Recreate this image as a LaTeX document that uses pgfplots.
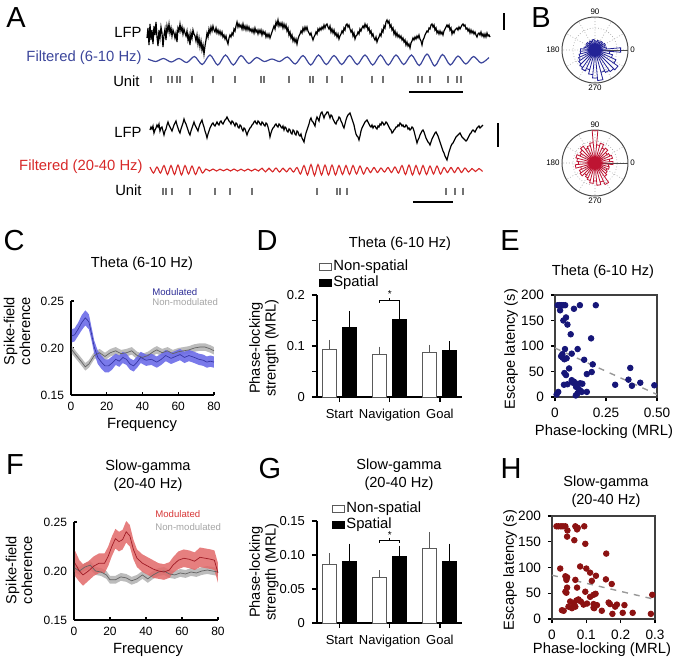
\documentclass[border=0pt]{standalone}
\usepackage{fontspec}
\setmainfont{Liberation Sans}
\usepackage{pgfplots}
\pgfplotsset{compat=1.18}
\usepgfplotslibrary{fillbetween,polar}
\usepackage{pgfplotstable}

\definecolor{bband}{RGB}{108,108,232}
\definecolor{bline}{RGB}{55,55,165}
\definecolor{gband}{RGB}{188,188,188}
\definecolor{gline}{RGB}{100,100,100}
\definecolor{rband}{RGB}{226,104,104}
\definecolor{rline}{RGB}{160,28,38}
\definecolor{btxt}{RGB}{45,45,150}
\definecolor{rtxt}{RGB}{215,55,55}
\definecolor{gtxt}{RGB}{165,165,165}
\definecolor{ftb}{RGB}{60,70,155}
\definecolor{ftr}{RGB}{215,40,40}
\definecolor{navy}{RGB}{22,22,120}
\definecolor{dred}{RGB}{140,18,18}
\definecolor{roseb}{RGB}{35,35,150}
\definecolor{roser}{RGB}{190,20,50}
\definecolor{nsbar}{RGB}{90,90,90}

\newcommand\fz[2]{\fontsize{#1}{#2}\selectfont}

\pgfplotsset{
  panel/.style={scale only axis, clip=false,
    axis line style={-,line width=0.6pt},
    tick style={line width=0.6pt,black},
    /pgf/number format/assume math mode=true},
}

% spike-field coherence, theta
\pgfplotstableread{
x m e
0.5 0.213 0.007
2 0.214 0.007
4 0.220 0.007
6 0.227 0.008
8 0.232 0.008
10 0.228 0.008
11.5 0.215 0.007
13 0.201 0.007
15 0.190 0.007
17 0.185 0.007
19 0.181 0.007
21 0.181 0.007
23 0.184 0.007
25 0.188 0.006
27 0.186 0.006
29 0.190 0.006
31 0.188 0.006
33 0.183 0.006
35 0.181 0.006
37 0.185 0.006
39 0.190 0.006
42 0.187 0.006
45 0.188 0.006
48 0.185 0.006
50.5 0.188 0.006
53 0.192 0.006
56 0.189 0.006
58.5 0.191 0.006
61 0.193 0.006
63.5 0.190 0.006
66 0.192 0.006
69 0.190 0.006
71.5 0.188 0.006
74 0.187 0.006
76 0.185 0.006
78 0.186 0.006
80 0.185 0.006
}\cmod
\pgfplotstableread{
x m e
0.5 0.198 0.004
3 0.192 0.004
6 0.185 0.004
8 0.180 0.004
10 0.183 0.004
13 0.192 0.004
16 0.195 0.004
19 0.191 0.004
22 0.195 0.004
25 0.197 0.004
28 0.194 0.004
31 0.195 0.004
34 0.197 0.004
37 0.192 0.004
40 0.190 0.004
43 0.192 0.004
46 0.196 0.004
48 0.198 0.004
51 0.195 0.004
54 0.197 0.004
57 0.194 0.004
60 0.196 0.004
63 0.197 0.004
66 0.198 0.004
69 0.200 0.004
72 0.201 0.004
75 0.201 0.004
78 0.199 0.004
80 0.197 0.004
}\cnon
% spike-field coherence, slow gamma
\pgfplotstableread{
x m e
0.5 0.208 0.013
3 0.200 0.011
5 0.196 0.011
8 0.200 0.010
11 0.205 0.010
14 0.208 0.010
17 0.208 0.010
19 0.215 0.010
21 0.225 0.010
23 0.233 0.010
25 0.230 0.010
27 0.232 0.010
29 0.240 0.011
31 0.236 0.011
33 0.222 0.010
35 0.213 0.009
38 0.208 0.009
41 0.205 0.009
44 0.202 0.009
47 0.200 0.008
50 0.199 0.008
53 0.201 0.008
55 0.206 0.008
58 0.211 0.009
61 0.213 0.009
64 0.212 0.009
67 0.210 0.009
70 0.214 0.010
73 0.213 0.010
76 0.212 0.010
78 0.211 0.010
80 0.198 0.010
}\fmod
\pgfplotstableread{
x m e
0.5 0.203 0.004
3 0.200 0.004
6 0.204 0.004
9 0.206 0.004
12 0.200 0.004
15 0.199 0.004
18 0.196 0.004
20 0.191 0.004
23 0.191 0.004
26 0.194 0.004
29 0.193 0.004
32 0.190 0.004
35 0.192 0.004
38 0.196 0.004
41 0.192 0.004
44 0.196 0.004
47 0.199 0.004
50 0.200 0.004
53 0.197 0.004
56 0.196 0.004
59 0.198 0.004
62 0.197 0.004
65 0.199 0.004
68 0.198 0.004
71 0.200 0.004
74 0.201 0.004
77 0.200 0.004
80 0.199 0.004
}\fnon

\begin{document}
\begin{tikzpicture}
\path (0,0) rectangle (338.5pt,-330.5pt);
\begin{scope}[x=0.5pt,y=-0.5pt]
\coordinate (pA) at (100,0);
\coordinate (pB1) at (595,50);
\coordinate (pB2) at (595,163);
\coordinate (pC) at (71,395);
\coordinate (pD) at (317,397);
\coordinate (pE) at (555,397);
\coordinate (pF) at (74,620);
\coordinate (pG) at (317,623);
\coordinate (pH) at (552,619);
\end{scope}

% ---------- C ----------
\begin{axis}[panel, at={(pC)}, anchor=south west, width=71.5pt, height=47pt,
  xmin=0, xmax=80, ymin=0.15, ymax=0.25, axis x line*=bottom, axis y line*=left,
  xtick={0,20,40,60,80}, ytick={0.15,0.2,0.25}, yticklabels={0.15,0.20,0.25},
  tick align=inside, major tick length=1.5pt, ticklabel style={font=\fz{6}{7}}]
\addplot[draw=none, name path=gu] table[x=x, y expr=\thisrow{m}+\thisrow{e}] {\cnon};
\addplot[draw=none, name path=gl] table[x=x, y expr=\thisrow{m}-\thisrow{e}] {\cnon};
\addplot[gband] fill between[of=gu and gl];
\addplot[draw=none, name path=bu] table[x=x, y expr=\thisrow{m}+\thisrow{e}] {\cmod};
\addplot[draw=none, name path=bl] table[x=x, y expr=\thisrow{m}-\thisrow{e}] {\cmod};
\addplot[bband, fill opacity=0.9] fill between[of=bu and bl];
\addplot[gline, line width=0.35pt] table[x=x, y=m] {\cnon};
\addplot[bline, line width=0.35pt] table[x=x, y=m] {\cmod};
\node[anchor=west, font=\fz{4.8}{5}, text=btxt, inner sep=0pt] at (axis cs:45.3,0.2596) {Modulated};
\node[anchor=west, font=\fz{4.8}{5}, text=gtxt, inner sep=0pt] at (axis cs:45.3,0.2489) {Non-modulated};
\end{axis}

% ---------- F ----------
\begin{axis}[panel, at={(pF)}, anchor=south west, width=72pt, height=49pt,
  xmin=0, xmax=80, ymin=0.15, ymax=0.25, axis x line*=bottom, axis y line*=left,
  xtick={0,20,40,60,80}, ytick={0.15,0.2,0.25}, yticklabels={0.15,0.20,0.25},
  tick align=inside, major tick length=1.5pt, ticklabel style={font=\fz{6}{7}}]
\addplot[draw=none, name path=hu] table[x=x, y expr=\thisrow{m}+\thisrow{e}] {\fnon};
\addplot[draw=none, name path=hl] table[x=x, y expr=\thisrow{m}-\thisrow{e}] {\fnon};
\addplot[gband] fill between[of=hu and hl];
\addplot[draw=none, name path=ru] table[x=x, y expr=\thisrow{m}+\thisrow{e}] {\fmod};
\addplot[draw=none, name path=rl] table[x=x, y expr=\thisrow{m}-\thisrow{e}] {\fmod};
\addplot[rband, fill opacity=0.85] fill between[of=ru and rl];
\addplot[gline, line width=0.35pt] table[x=x, y=m] {\fnon};
\addplot[rline, line width=0.35pt] table[x=x, y=m] {\fmod};
\node[anchor=west, font=\fz{4.8}{5}, text=rtxt, inner sep=0pt] at (axis cs:45,0.2582) {Modulated};
\node[anchor=west, font=\fz{4.8}{5}, text=gtxt, inner sep=0pt] at (axis cs:45,0.2449) {Non-modulated};
\end{axis}

% ---------- A: traces (pixel-like units) ----------
\begin{axis}[panel, hide axis, at={(pA)}, anchor=north west,
  width=205pt, height=107.5pt, xmin=100, xmax=510, ymin=0, ymax=215, y dir=reverse]
\addplot[black, line width=0.6pt] coordinates {
(147,38)(148,28)(149,45)(150,24)(151,40)(152,30)(153,44)(154,26)(155,35)(156,22)
(157,37)(158,46)(159,30)(160,38)(161,27)(162,33)(163,47)(164,35)(165,29)(166,40)
(167,26)(168,31)(169,24)(170,33)(171,28)(172,36)(173,30)(174,33)(175,38)(176,33)
(177,42)(178,28)(179,31)(180,24)(181,31)(182,27)(183,34)(184,29)(185,33)(186,36)
(187,31)(188,40)(189,35)(190,45)(191,33)(192,38)(193,30)(194,34)(195,36)(196,41)
(197,35)(198,44)(199,38)(200,47)(201,41)(202,50)(203,45)(204,54)(205,46)(206,40)
(207,33)(208,37)(209,29)(210,33)(211,27)(212,31)(213,26)(214,30)(215,32)(216,28)
(217,33)(218,30)(219,34)(220,31)(221,35)(222,32)(223,37)(224,35)(225,39)(226,36)
(227,41)(228,44)(229,38)(230,35)(231,37)(232,33)(233,35)(234,29)(235,31)(236,26)
(237,22)(238,27)(239,24)(240,27)(241,25)(242,29)(243,24)(244,29)(245,26)(246,30)
(247,26)(248,30)(249,27)(250,31)(251,29)(252,32)(253,29)(254,33)(255,28)(256,32)
(257,30)(258,34)(259,30)(260,33)(261,30)(262,35)(263,31)(264,34)(265,32)(266,37)
(267,34)(268,37)(269,34)(270,38)(271,35)(272,32)(273,29)(274,26)(275,29)(276,22)
(277,25)(278,20)(279,26)(280,23)(281,26)(282,23)(283,28)(284,24)(285,28)(286,25)
(287,31)(288,28)(289,35)(290,32)(291,38)(292,35)(293,41)(294,38)(295,42)(296,39)
(297,44)(298,39)(299,36)(300,34)(301,31)(302,33)(303,28)(304,31)(305,27)(306,30)
(307,27)(308,31)(309,33)(310,35)(311,33)(312,37)(313,40)(314,37)(315,35)(316,32)
(317,34)(318,29)(319,31)(320,28)(321,30)(322,27)(323,29)(324,25)(325,28)(326,25)
(327,24)(328,27)(329,29)(330,26)(331,32)(332,29)(333,33)(334,30)(335,35)(336,33)
(337,37)(338,34)(339,39)(340,36)(341,34)(342,31)(343,33)(344,28)(345,30)(346,25)
(347,24)(348,27)(349,25)(350,29)(351,32)(352,30)(353,36)(354,33)(355,39)(356,36)
(357,35)(358,32)(359,34)(360,29)(361,31)(362,28)(363,26)(364,28)(365,24)(366,27)
(367,25)(368,30)(369,28)(370,33)(371,31)(372,36)(373,34)(374,38)(375,40)(376,37)
(377,42)(378,39)(379,37)(380,34)(381,36)(382,30)(383,32)(384,26)(385,28)(386,22)
(387,20)(388,23)(389,21)(390,27)(391,25)(392,30)(393,28)(394,34)(395,31)(396,36)
(397,33)(398,37)(399,35)(400,38)(401,36)(402,40)(403,38)(404,42)(405,40)(406,45)
(407,42)(408,46)(409,44)(410,48)(411,43)(412,41)(413,38)(414,40)(415,37)(416,39)
(417,36)(418,38)(419,35)(420,39)(421,41)(422,45)(423,40)(424,38)(425,35)(426,33)
(427,31)(428,32)(429,28)(430,29)(431,25)(432,24)(433,27)(434,25)(435,30)(436,28)
(437,33)(438,31)(439,34)(440,31)(441,34)(442,32)(443,35)(444,31)(445,29)(446,27)
(447,25)(448,27)(449,25)(450,30)(451,28)(452,34)(453,31)(454,33)(455,30)(456,29)
(457,28)(458,30)(459,27)(460,29)(461,27)(462,25)(463,24)(464,26)(465,25)(466,29)
(467,28)(468,31)(469,29)(470,33)(471,30)(472,33)(473,31)(474,34)(475,32)(476,35)
(477,37)(478,34)(479,33)(480,35)(481,32)(482,36)(483,34)(484,37)(485,34)(486,37)
(487,33)(488,36)(489,35)(490,37)};
\addplot[ftb, line width=0.6pt, smooth] coordinates {
(148,59)(155.75,61.5)(163.5,58.5)(171.25,62)(179,58.5)(186.75,62.5)(194.5,56.5)
(202.25,64.5)(210,55)(217.75,65)(225.5,55)(233.25,65)(241,55.5)(248.75,63.5)
(256.5,57.5)(264.25,61.5)(272,59)(279.75,61.5)(287.5,57)(295.25,64)(303,55.5)
(310.75,65)(318.5,55)(326.25,64.5)(334,55.5)(341.75,64.5)(349.5,55.5)(357.25,64.5)
(365,55)(372.75,65)(380.5,55)(388.25,65)(396,55)(403.75,64.5)(411.5,55)(419.25,65.5)
(427,54)(434.75,66)(442.5,54.5)(450.25,65)(458,56)(465.75,64)(473.5,56.5)
(481.25,63)(489,57.5)};
\addplot[only marks, mark=|, mark size=1.75pt, color=black!55, mark options={line width=0.9pt}]
coordinates {(150.7,79)(167.7,79)(172.3,79)(176.7,79)(180,79)(191.7,79)(212.7,79)
(235.3,79)(261,79)(264,79)(289.3,79)(310,79)(313.3,79)(326.7,79)(341.7,79)(371.7,79)
(383.3,79)(418.3,79)(421.7,79)(430,79)(448.3,79)(457.3,79)(460.7,79)};
\addplot[black, line width=1pt] coordinates {(409,92)(463,92)};
\addplot[black, line width=1pt] coordinates {(504,13)(504,30)};
% bottom
\addplot[black, line width=0.6pt] coordinates {
(150,130)(151,127)(152,129)(153,126)(154,133)(155,130)(156,128)(157,125)(158,127)(159,124)
(160,131)(161,128)(162,127)(163,131)(164,135)(165,131)(166,129)(167,125)(168,122)(169,125)
(170,127)(171,129)(172,131)(173,128)(174,125)(175,123)(176,121)(177,125)(178,128)(179,131)
(180,133)(181,129)(182,126)(183,123)(184,119)(185,122)(186,124)(187,127)(188,130)(189,133)
(190,135)(191,131)(192,128)(193,125)(194,122)(195,125)(196,127)(197,129)(198,131)(199,127)
(200,124)(201,122)(202,120)(203,124)(204,127)(205,131)(206,134)(207,138)(208,134)(209,131)
(210,128)(211,126)(212,124)(213,123)(214,125)(215,126)(216,124)(217,122)(218,124)(219,125)
(220,122)(221,121)(222,123)(223,124)(224,122)(225,120)(226,119)(227,117)(228,119)(229,121)
(230,122)(231,124)(232,121)(233,122)(234,124)(235,126)(236,123)(237,124)(238,127)(239,128)
(240,125)(241,126)(242,129)(243,131)(244,128)(245,129)(246,132)(247,135)(248,132)(249,130)
(250,128)(251,127)(252,125)(253,124)(254,122)(255,121)(256,123)(257,124)(258,121)(259,122)
(260,124)(261,125)(262,122)(263,123)(264,125)(265,126)(266,123)(267,124)(268,127)(269,131)
(270,137)(271,133)(272,130)(273,128)(274,127)(275,125)(276,124)(277,126)(278,127)(279,124)
(280,125)(281,127)(282,128)(283,126)(284,130)(285,127)(286,128)(287,131)(288,132)(289,129)
(290,130)(291,133)(292,134)(293,130)(294,131)(295,134)(296,135)(297,131)(298,132)(299,135)
(300,136)(301,134)(302,138)(303,140)(304,142)(305,137)(306,133)(307,130)(308,127)(309,124)
(310,120)(311,118)(312,121)(313,122)(314,124)(315,126)(316,120)(317,117)(318,119)(319,121)
(320,116)(321,113)(322,112)(323,115)(324,118)(325,115)(326,114)(327,112)(328,112)(329,115)
(330,118)(331,115)(332,116)(333,119)(334,121)(335,123)(336,124)(337,121)(338,120)(339,117)
(340,118)(341,121)(342,123)(343,126)(344,128)(345,124)(346,120)(347,117)(348,115)(349,114)
(350,113)(351,116)(352,119)(353,122)(354,125)(355,130)(356,134)(357,136)(358,137)(359,140)
(360,136)(361,131)(362,128)(363,126)(364,124)(365,122)(366,121)(367,120)(368,122)(369,124)
(370,126)(371,127)(372,125)(373,128)(374,126)(375,126)(376,128)(377,129)(378,126)(379,127)
(380,124)(381,125)(382,122)(383,123)(384,125)(385,124)(386,122)(387,123)(388,125)(389,127)
(390,129)(391,130)(392,133)(393,132)(394,130)(395,129)(396,127)(397,127)(398,125)(399,126)
(400,123)(401,124)(402,126)(403,125)(404,127)(405,127)(406,125)(407,126)(408,129)(409,128)
(410,130)(411,129)(412,127)(413,128)(414,131)(415,135)(416,139)(417,143)(418,140)(419,138)
(420,135)(421,133)(422,131)(423,130)(424,132)(425,135)(426,138)(427,140)(428,142)(429,143)
(430,145)(431,142)(432,139)(433,137)(434,135)(435,133)(436,132)(437,134)(438,136)(439,139)
(440,142)(441,145)(442,148)(443,151)(444,153)(445,156)(446,158)(447,160)(448,156)(449,152)
(450,149)(451,146)(452,144)(453,143)(454,141)(455,139)(456,137)(457,136)(458,135)(459,134)
(460,133)(461,135)(462,137)(463,138)(464,139)(465,140)(466,141)(467,140)(468,138)(469,136)
(470,134)(471,133)(472,131)(473,130)(474,131)(475,132)(476,130)(477,128)(478,127)(479,126)
(480,128)(481,127)(482,126)(483,125)};
\addplot[ftr, line width=0.55pt, smooth] coordinates {
(150,167)(153.5,173)(157,167)(160.5,173)(164,165.5)(167.5,174.5)(171,165.5)
(174.5,174.5)(178,165)(181.5,175)(185,165.5)(188.5,174)(192,166)(195.5,174.5)
(199,167)(202.5,173)(206,169)(209.5,171)(213,169)(216.5,171)(220,169.2)(223.5,170.8)
(227,169)(230.5,171)(234,169)(237.5,171)(241,169.2)(244.5,171)(248,169)(251.5,171)
(255,169)(258.5,171)(262,168.2)(265.5,171.8)(269,168.2)(272.5,171.8)(276,168)
(279.5,172)(283,168.2)(286.5,171.8)(290,168)(293.5,172)(297,167.5)(300.5,174)
(304,165.5)(307.5,175)(311,164.5)(314.5,175.5)(318,164.5)(321.5,175)(325,165)
(328.5,175)(332,165)(335.5,175)(339,165.5)(342.5,174.5)(346,165.5)(349.5,174.5)
(353,165.5)(356.5,174)(360,166)(363.5,174)(367,167.5)(370.5,172.5)(374,167.5)
(377.5,172.5)(381,168)(384.5,172)(388,167.5)(391.5,172.5)(395,167)(398.5,173)
(402,165.5)(405.5,174.5)(409,165)(412.5,175)(416,165.5)(419.5,174.5)(423,165.5)
(426.5,174.5)(430,166)(433.5,174)(437,166)(440.5,174)(444,167.5)(447.5,172.5)
(451,167.5)(454.5,172.5)(458,167.5)(461.5,172.5)(465,168)(468.5,172)(472,168.5)
(475.5,171.5)(479,168.5)(482.5,171.5)};
\addplot[only marks, mark=|, mark size=1.75pt, color=black!55, mark options={line width=0.9pt}]
coordinates {(162.7,191)(165.7,191)(171.7,191)(190,191)(215,191)(230,191)(252.3,191)
(317.3,191)(337.3,191)(340,191)(347.3,191)(446,191)(455,191)(463.3,191)};
\addplot[black, line width=1pt] coordinates {(413,202)(453,202)};
\addplot[black, line width=1pt] coordinates {(498,123)(498,147)};
\end{axis}

% ---------- D ----------
\pgfplotsset{barax/.style={panel, anchor=south west, width=72.5pt, height=51pt,
  xmin=-0.448, xmax=2.44, ymin=0, axis x line*=bottom, axis y line*=left,
  xtick={0,1,2}, xticklabels={Start,Navigation,Goal},
  tick align=outside, major tick length=2.5pt, minor tick length=2.5pt,
  ticklabel style={font=\fz{6.5}{7}},
  legend style={draw=none, fill=none, font=\fz{7.4}{8}, row sep=0pt,
    nodes={inner sep=0.5pt, text height=5.4pt, text depth=1.6pt},
    /tikz/every even column/.append style={column sep=1pt}},
  legend cell align=left},
  nsb/.style={ybar, bar width=0.28, bar shift=0pt, fill=white, draw=nsbar, line width=0.5pt,
    forget plot, error bars/.cd, y dir=plus, y explicit, error mark=-,
    error bar style={line width=0.5pt, draw=nsbar},
    error mark options={mark size=2pt, line width=0.5pt, draw=nsbar}},
  spb/.style={ybar, bar width=0.28, bar shift=0pt, fill=black, draw=black, line width=0.5pt,
    forget plot, error bars/.cd, y dir=plus, y explicit, error mark=-,
    error bar style={line width=0.5pt, draw=black},
    error mark options={mark size=2pt, line width=0.5pt, draw=black}}}
\begin{axis}[barax, at={(pD)}, ymax=0.2, ytick={0,0.1,0.2}, yticklabels={0,0.1,0.2},
  minor ytick={0.05,0.15},
  legend style={at={(-0.028,1.40)}, anchor=north west}]
\addplot[nsb] coordinates {(-0.2,0.093)+-(0,0.011) (0.8,0.084)+-(0,0.007) (1.8,0.087)+-(0,0.008)};
\addplot[spb] coordinates {(0.2,0.136)+-(0,0.025) (1.2,0.151)+-(0,0.025) (2.2,0.092)+-(0,0.009)};
\addplot[black, line width=0.4pt, forget plot] coordinates {(0.8,0.185)(0.8,0.19)(1.2,0.19)(1.2,0.185)};
\addplot[black, line width=0.4pt, forget plot] coordinates {(1,0.19)(1,0.194)};
\node[font=\fz{5}{5}, inner sep=0pt] at (axis cs:1,0.201) {*};
\addlegendimage{legend image code/.code={\draw[fill=white,draw=nsbar,line width=0.5pt] (0pt,-1.8pt) rectangle (6pt,1.8pt);}}
\addlegendentry{Non-spatial}
\addlegendimage{legend image code/.code={\draw[fill=black,draw=black,line width=0.5pt] (0pt,-1.8pt) rectangle (6pt,1.8pt);}}
\addlegendentry{Spatial}
\end{axis}

% ---------- G ----------
\begin{axis}[barax, at={(pG)}, ymax=0.15, ytick={0,0.05,0.1,0.15}, yticklabels={0,0.05,0.10,0.15},
  legend style={at={(0.062,1.24)}, anchor=north west}]
\addplot[nsb] coordinates {(-0.2,0.086)+-(0,0.011) (0.8,0.067)+-(0,0.005) (1.8,0.110)+-(0,0.018)};
\addplot[spb] coordinates {(0.2,0.091)+-(0,0.020) (1.2,0.098)+-(0,0.010) (2.2,0.090)+-(0,0.021)};
\addplot[black, line width=0.4pt, forget plot] coordinates {(0.8,0.118)(0.8,0.122)(1.2,0.122)(1.2,0.118)};
\addplot[black, line width=0.4pt, forget plot] coordinates {(1,0.122)(1,0.125)};
\node[font=\fz{5}{5}, inner sep=0pt] at (axis cs:1,0.1295) {*};
\addlegendimage{legend image code/.code={\draw[fill=white,draw=nsbar,line width=0.5pt] (0pt,-1.8pt) rectangle (6pt,1.8pt);}}
\addlegendentry{Non-spatial}
\addlegendimage{legend image code/.code={\draw[fill=black,draw=black,line width=0.5pt] (0pt,-1.8pt) rectangle (6pt,1.8pt);}}
\addlegendentry{Spatial}
\end{axis}

% ---------- E ----------
\pgfplotsset{scatax/.style={panel, anchor=south west,
  axis line style={line width=0.6pt, black!75},
  xtick pos=bottom, ytick pos=left, tick align=outside, major tick length=2pt,
  ymin=0, ymax=200, ytick={0,50,100,150,200},
  ticklabel style={font=\fz{6.8}{7}}}}
\begin{axis}[scatax, at={(pE)}, width=51pt, height=51pt,
  xmin=0, xmax=0.5, xtick={0,0.25,0.5}, xticklabels={0,0.25,0.50}]
\addplot[only marks, mark=*, mark size=1.4pt, color=navy] coordinates {
(0.008,5)(0.016,10)(0.013,180)(0.022,180)(0.030,180)(0.040,180)(0.050,180)(0.025,170)
(0.122,180)(0.200,180)(0.093,173)(0.054,156)(0.041,150)(0.061,142)(0.077,123)(0.177,115)
(0.049,94)(0.111,94)(0.030,80)(0.038,77)(0.046,74)(0.057,76)(0.036,84)(0.082,85)
(0.143,73)(0.185,64)(0.069,56)(0.046,47)(0.054,43)(0.180,49)(0.156,45)(0.369,57)
(0.360,34)(0.377,22)(0.418,28)(0.487,23)(0.295,24)(0.044,24)(0.061,25)(0.082,33)
(0.093,30)(0.107,26)(0.123,27)(0.134,26)(0.103,20)(0.115,16)(0.123,13)(0.110,7)
(0.131,10)(0.156,10)(0.102,3)(0.088,28)};
\addplot[gray!80, dashed, line width=0.7pt] coordinates {(0,96)(0.5,5)};
\end{axis}

% ---------- H ----------
\begin{axis}[scatax, at={(pH)}, width=51.5pt, height=51.5pt,
  xmin=0, xmax=0.3, xtick={0,0.1,0.2,0.3}, xticklabels={0,0.1,0.2,0.3}]
\addplot[only marks, mark=*, mark size=1.4pt, color=dred] coordinates {
(0.013,180)(0.019,180)(0.026,180)(0.032,180)(0.039,180)(0.068,180)(0.075,177)(0.094,180)
(0.045,172)(0.073,174)(0.044,160)(0.065,153)(0.097,146)(0.158,127)(0.024,98)(0.082,102)
(0.100,98)(0.039,83)(0.044,81)(0.111,90)(0.128,84)(0.042,76)(0.068,76)(0.157,77)
(0.116,74)(0.174,68)(0.073,61)(0.044,61)(0.039,53)(0.042,51)(0.097,53)(0.121,47)
(0.127,49)(0.111,43)(0.053,34)(0.063,30)(0.071,36)(0.077,38)(0.084,34)(0.092,28)
(0.102,30)(0.121,29)(0.131,27)(0.165,32)(0.169,29)(0.189,28)(0.184,24)(0.211,27)
(0.048,24)(0.058,21)(0.068,24)(0.029,17)(0.034,16)(0.121,22)(0.123,21)(0.145,16)
(0.176,10)(0.206,12)(0.235,12)(0.288,10)(0.292,47)};
\addplot[gray!80, dashed, line width=0.7pt] coordinates {(0,85)(0.3,38)};
\end{axis}

% ---------- B: rose plots ----------
\pgfplotsset{roseax/.style={scale only axis, width=33pt, height=33pt, anchor=center,
  ymin=0, ymax=1, xtick={0,30,...,330}, xticklabels={0,,,90,,,180,,,270,,},
  ytick={0.33,0.67}, yticklabels={}, grid=major,
  major grid style={densely dotted, gray!70, line width=0.3pt},
  axis line style={black!70, line width=0.5pt},
  xtick style={draw=none}, ytick style={draw=none},
  xticklabel style={font=\fz{4}{4}, inner sep=1pt},
  /pgf/number format/assume math mode=true}}
\begin{polaraxis}[roseax, at={(pB1)}]
\addplot[roseb, line width=0.4pt] coordinates {
(0,0)(-5,.78)(5,.78)(0,0)(5,.35)(15,.35)(0,0)(15,.30)(25,.30)(0,0)(25,.35)(35,.35)(0,0)
(35,.28)(45,.28)(0,0)(45,.32)(55,.32)(0,0)(55,.26)(65,.26)(0,0)(65,.30)(75,.30)(0,0)
(75,.27)(85,.27)(0,0)(85,.28)(95,.28)(0,0)(95,.32)(105,.32)(0,0)(105,.28)(115,.28)(0,0)
(115,.30)(125,.30)(0,0)(125,.26)(135,.26)(0,0)(135,.32)(145,.32)(0,0)(145,.28)(155,.28)(0,0)
(155,.30)(165,.30)(0,0)(165,.34)(175,.34)(0,0)(175,.44)(185,.44)(0,0)(185,.45)(195,.45)(0,0)
(195,.50)(205,.50)(0,0)(205,.55)(215,.55)(0,0)(215,.60)(225,.60)(0,0)(225,.65)(235,.65)(0,0)
(235,.70)(245,.70)(0,0)(245,.62)(255,.62)(0,0)(255,.75)(265,.75)(0,0)(265,.85)(275,.85)(0,0)
(275,.93)(285,.93)(0,0)(285,.70)(295,.70)(0,0)(295,.75)(305,.75)(0,0)(305,.80)(315,.80)(0,0)
(315,.85)(325,.85)(0,0)(325,.70)(335,.70)(0,0)(335,.55)(345,.55)(0,0)(345,.45)(355,.45)(0,0)};
\addplot[only marks, mark=*, mark size=3pt, color=roseb] coordinates {(0,0)};
\end{polaraxis}
\begin{polaraxis}[roseax, at={(pB2)}]
\addplot[roser, line width=0.4pt] coordinates {
(0,0)(-5,.55)(5,.55)(0,0)(5,.45)(15,.45)(0,0)(15,.55)(25,.55)(0,0)(25,.50)(35,.50)(0,0)
(35,.45)(45,.45)(0,0)(45,.55)(55,.55)(0,0)(55,.50)(65,.50)(0,0)(65,.62)(75,.62)(0,0)
(75,.55)(85,.55)(0,0)(85,.98)(95,.98)(0,0)(95,.62)(105,.62)(0,0)(105,.55)(115,.55)(0,0)
(115,.50)(125,.50)(0,0)(125,.62)(135,.62)(0,0)(135,.55)(145,.55)(0,0)(145,.50)(155,.50)(0,0)
(155,.60)(165,.60)(0,0)(165,.55)(175,.55)(0,0)(175,.50)(185,.50)(0,0)(185,.60)(195,.60)(0,0)
(195,.45)(205,.45)(0,0)(205,.52)(215,.52)(0,0)(215,.55)(225,.55)(0,0)(225,.45)(235,.45)(0,0)
(235,.50)(245,.50)(0,0)(245,.55)(255,.55)(0,0)(255,.62)(265,.62)(0,0)(265,.55)(275,.55)(0,0)
(275,.68)(285,.68)(0,0)(285,.60)(295,.60)(0,0)(295,.72)(305,.72)(0,0)(305,.50)(315,.50)(0,0)
(315,.45)(325,.45)(0,0)(325,.40)(335,.40)(0,0)(335,.45)(345,.45)(0,0)(345,.42)(355,.42)(0,0)};
\addplot[only marks, mark=*, mark size=3pt, color=roser] coordinates {(0,0)};
\end{polaraxis}

% ---------- text ----------
\begin{scope}[x=0.5pt,y=-0.5pt]
\tikzset{lt/.style={font=\fz{14.5}{15}, inner sep=0pt},
  tt/.style={font=\fz{7.3}{9}, inner sep=0pt, align=center},
  al/.style={font=\fz{7.4}{8}, inner sep=0pt, align=center},
  yl/.style={font=\fz{7.3}{7.8}, inner sep=0pt, align=center, rotate=90}}
\node[lt] at (16,18) {A};
\node[lt] at (541,18) {B};
\node[lt] at (14,241) {C};
\node[lt] at (267,241) {D};
\node[lt] at (510,241) {E};
\node[lt] at (15,465) {F};
\node[lt] at (270,469) {G};
\node[lt] at (511,469) {H};
% A labels
\node[al, anchor=east] at (142,32) {LFP};
\node[al, anchor=east, text=ftb] at (142,58) {Filtered (6-10 Hz)};
\node[al, anchor=east] at (140,81) {Unit};
\node[al, anchor=east] at (142,132) {LFP};
\node[al, anchor=east, text=ftr] at (143,167) {Filtered (20-40 Hz)};
\node[al, anchor=east] at (142,190) {Unit};
% titles
\node[tt] at (142,264) {Theta (6-10 Hz)};
\node[tt] at (400,244) {Theta (6-10 Hz)};
\node[tt] at (603,272) {Theta (6-10 Hz)};
\node[tt] at (148,476) {Slow-gamma\\(20-40 Hz)};
\node[tt] at (399,475) {Slow-gamma\\(20-40 Hz)};
\node[tt] at (606,492) {Slow-gamma\\(20-40 Hz)};
% axis labels
\node[al] at (142,425) {Frequency};
\node[al] at (148,650) {Frequency};
\node[al] at (604,432) {Phase-locking (MRL)};
\node[al] at (602,650) {Phase-locking (MRL)};
\node[yl] at (17,331) {Spike-field\\coherence};
\node[yl] at (19,570) {Spike-field\\coherence};
\node[yl] at (264,348) {Phase-locking\\strength (MRL)};
\node[yl] at (264,572) {Phase-locking\\strength (MRL)};
\node[yl] at (511,349) {Escape latency (s)};
\node[yl] at (510,570) {Escape latency (s)};
\end{scope}
\end{tikzpicture}
\end{document}
